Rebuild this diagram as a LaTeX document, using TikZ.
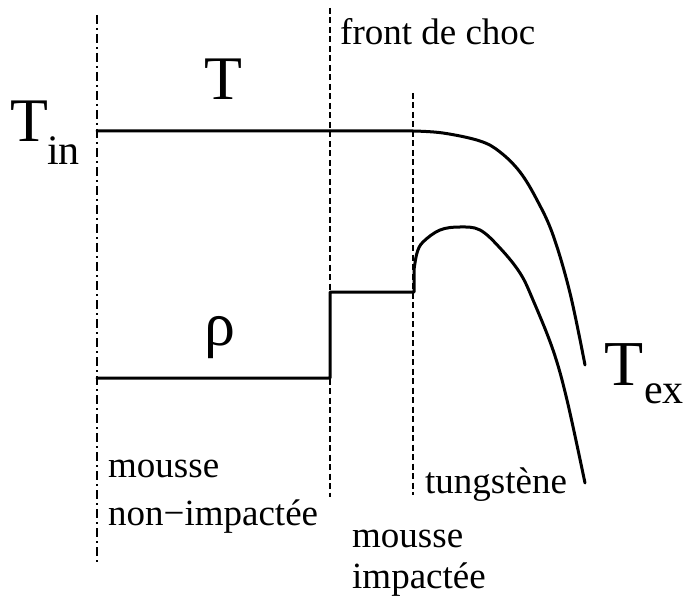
\documentclass[tikz,border=0pt]{standalone}
\usepackage{fontspec}
\setmainfont{Liberation Serif}
\begin{document}
\begin{tikzpicture}[x=1pt,y=-1pt,
  curve/.style={line width=3pt,line join=round,line cap=round},
  sep/.style={line width=2pt,dash pattern=on 6pt off 3.5pt},
  sepdd/.style={line width=2pt,dash pattern=on 9pt off 4pt on 2pt off 4pt},
  lab/.style={anchor=base west,inner sep=0pt,font=\fontsize{37}{44}\selectfont},
  big/.style={inner sep=0pt,font=\fontsize{62}{66}\selectfont}]
\useasboundingbox (0,0) rectangle (686,599);
% separators
\coordinate (a1) at (97,15); \coordinate (a2) at (97,562);
\coordinate (b1) at (330,8); \coordinate (b2) at (330,497);
\coordinate (c1) at (413,93); \coordinate (c2) at (413,495);
\draw[sepdd] (a1) -- (a2);
\draw[sep] (b1) -- (b2);
\draw[sep] (c1) -- (c2);
% T curve
\draw[curve] (97,131) -- (413,131)
  plot[smooth,tension=0.6] coordinates {(413,131) (443,133) (480,141) (500,152) (520,172) (537,200) (553,235) (570,293) (585,365)};
% rho curve
\draw[curve] (97,378) -- (330,378) -- (330,292) -- (414,292) -- (414,270)
  plot[smooth,tension=0.6] coordinates {(414,270) (417,253) (423,242) (440,230) (460,227) (480,230) (500,248) (520,273) (533,300) (553,350) (567,400) (585,483)};
% labels
\node[big,anchor=base] (T) at (223,100) {T};
\node[big,anchor=base] (rho) at (220,345) {ρ};
\node[anchor=base west,inner sep=0pt] (Tin) at (10,142) {\fontsize{62}{66}\selectfont T\kern-1pt\raisebox{-23pt}{\fontsize{42}{46}\selectfont in}};
\node[anchor=base west,inner sep=0pt] (Tex) at (604,385) {\fontsize{64}{66}\selectfont T\kern1pt\raisebox{-18pt}{\fontsize{42}{44}\selectfont ex}};
\node[lab] (front) at (340,45) {front de choc};
\node[lab] (m1) at (108,477) {mousse};
\node[lab] (m2) at (108,525) {non−impactée};
\node[lab] (tung) at (425,493) {tungstène};
\node[lab] (m3) at (352,547) {mousse};
\node[lab] (m4) at (352,588) {impactée};
\end{tikzpicture}
\end{document}
